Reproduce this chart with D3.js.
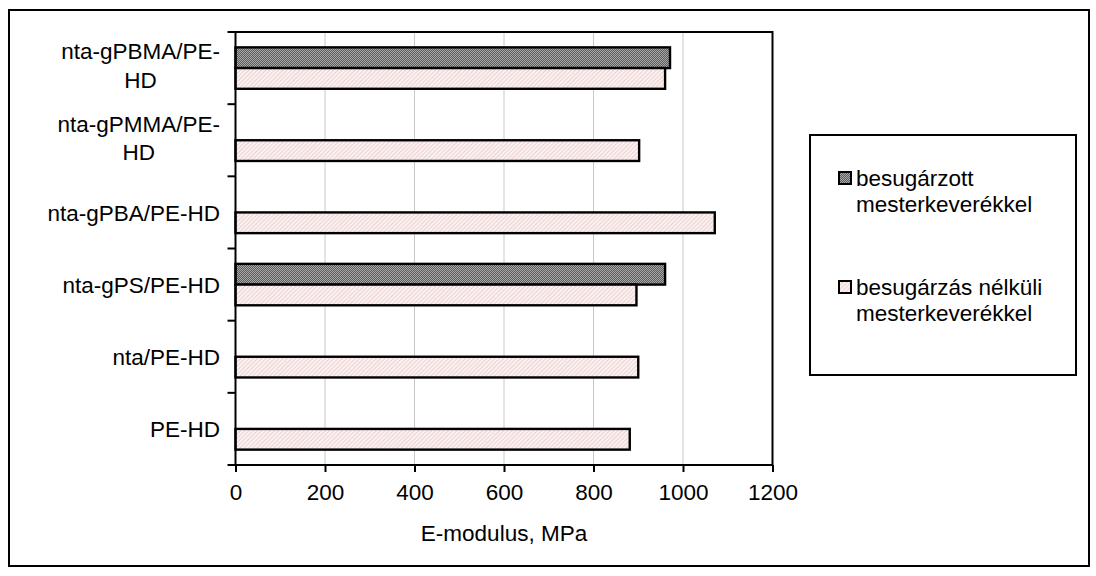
<!DOCTYPE html>
<html>
<head>
<meta charset="utf-8">
<script src="https://cdnjs.cloudflare.com/ajax/libs/d3/7.8.5/d3.min.js"></script>
<style>
  html, body { margin: 0; padding: 0; background: #fff; }
  text { font-family: "Liberation Sans", Arial, sans-serif; fill: #000; }
</style>
</head>
<body>
<svg id="chart" width="1096" height="576"></svg>
<script>
// ---- data ----
const categories = ["nta-gPBMA/PE-HD", "nta-gPMMA/PE-HD", "nta-gPBA/PE-HD", "nta-gPS/PE-HD", "nta/PE-HD", "PE-HD"];
const categoryLabelLines = [["nta-gPBMA/PE-", "HD"], ["nta-gPMMA/PE-", "HD"], ["nta-gPBA/PE-HD"], ["nta-gPS/PE-HD"], ["nta/PE-HD"], ["PE-HD"]];
const seriesNames = ["besugárzott mesterkeverékkel", "besugárzás nélküli mesterkeverékkel"];
const legendLines = [["besugárzott", "mesterkeverékkel"], ["besugárzás nélküli", "mesterkeverékkel"]];
const irradiated = [971, null, null, 960, null, null];
const nonIrradiated = [960, 902, 1071, 896, 900, 881];
const xTicks = [0, 200, 400, 600, 800, 1000, 1200];
const xTitle = "E-modulus, MPa";

// ---- layout ----
const FS = 22.5;
const svg = d3.select("#chart");
const plot = { left: 235.5, right: 772.5, top: 32, bottom: 465 };

const defs = svg.append("defs");
const pDark = defs.append("pattern").attr("id", "pDark").attr("width", 2).attr("height", 2).attr("patternUnits", "userSpaceOnUse");
pDark.append("rect").attr("width", 2).attr("height", 2).attr("fill", "#5e5e5e");
pDark.append("rect").attr("width", 1).attr("height", 1).attr("fill", "#a6a6a6");
pDark.append("rect").attr("x", 1).attr("y", 1).attr("width", 1).attr("height", 1).attr("fill", "#a6a6a6");

const pPink = defs.append("pattern").attr("id", "pPink").attr("width", 3).attr("height", 3).attr("patternUnits", "userSpaceOnUse").attr("patternTransform", "rotate(45)");
pPink.append("rect").attr("width", 3).attr("height", 3).attr("fill", "#fcf3f3");
pPink.append("rect").attr("width", 1.1).attr("height", 3).attr("fill", "#ecd2d2");

const fills = ["url(#pDark)", "url(#pPink)"];

svg.append("rect").attr("x", 0).attr("y", 0).attr("width", 1096).attr("height", 576).attr("fill", "#fff");
svg.append("rect").attr("x", 9).attr("y", 10).attr("width", 1080).attr("height", 556)
  .attr("fill", "none").attr("stroke", "#000").attr("stroke-width", 2);

const x = d3.scaleLinear().domain([0, 1200]).range([plot.left, plot.right]);
const y = d3.scaleBand().domain(categories).range([plot.top, plot.bottom]).paddingInner(0.426).paddingOuter(0.213);
const ySub = d3.scaleBand().domain(seriesNames).range([0, y.bandwidth()]);

// gridlines
svg.append("g").selectAll("line").data(xTicks.filter(t => t > 0 && t < 1200)).join("line")
  .attr("x1", d => x(d)).attr("x2", d => x(d))
  .attr("y1", plot.top).attr("y2", plot.bottom)
  .attr("stroke", "#c8c8c8").attr("stroke-width", 1);

// bars
const seriesData = [irradiated, nonIrradiated];
seriesData.forEach((vals, si) => {
  svg.append("g").selectAll("rect")
    .data(categories.map((c, i) => ({ c, v: vals[i] })).filter(d => d.v != null))
    .join("rect")
    .attr("x", x(0))
    .attr("y", d => y(d.c) + ySub(seriesNames[si]))
    .attr("width", d => x(d.v) - x(0))
    .attr("height", ySub.bandwidth())
    .attr("fill", fills[si])
    .attr("stroke", "#000").attr("stroke-width", 2.4);
});

// plot border
svg.append("rect").attr("x", plot.left).attr("y", plot.top)
  .attr("width", plot.right - plot.left).attr("height", plot.bottom - plot.top)
  .attr("fill", "none").attr("stroke", "#000").attr("stroke-width", 2);

// x axis
const xAxis = d3.axisBottom(x).tickValues(xTicks).tickSize(7).tickPadding(12).tickFormat(d3.format("d"));
const gx = svg.append("g").attr("transform", `translate(0,${plot.bottom})`).call(xAxis);
gx.select(".domain").remove();
gx.selectAll(".tick line").attr("stroke", "#000").attr("stroke-width", 2);
gx.selectAll(".tick text").attr("font-size", FS).attr("font-family", "Liberation Sans, Arial, sans-serif").attr("fill", "#000");

// y axis ticks at band boundaries
const step = y.step();
const boundaries = d3.range(categories.length + 1).map(i => plot.top + i * step);
svg.append("g").selectAll("line").data(boundaries).join("line")
  .attr("x1", plot.left - 8).attr("x2", plot.left)
  .attr("y1", d => d).attr("y2", d => d)
  .attr("stroke", "#000").attr("stroke-width", 2);

// y labels
const labelRight = 220;
const lineH = 28.5;
const gy = svg.append("g");
categories.forEach((c, i) => {
  const lines = categoryLabelLines[i];
  const cy = y(c) + y.bandwidth() / 2 + (lines.length > 1 ? -2 : 1);
  const g = gy.append("g");
  const t = g.selectAll("text").data(lines).join("text")
    .attr("font-size", FS)
    .attr("text-anchor", "middle")
    .attr("dominant-baseline", "central")
    .attr("y", (d, k) => cy + (k - (lines.length - 1) / 2) * lineH)
    .text(d => d);
  let maxW = 0;
  t.each(function () { maxW = Math.max(maxW, this.getComputedTextLength()); });
  t.attr("x", labelRight - maxW / 2);
});

// x title
svg.append("text").attr("x", (plot.left + plot.right) / 2).attr("y", 533)
  .attr("text-anchor", "middle").attr("dominant-baseline", "central")
  .attr("font-size", FS).text(xTitle);

// legend
const lg = { x: 810, y: 135, w: 266, h: 240 };
svg.append("rect").attr("x", lg.x).attr("y", lg.y).attr("width", lg.w).attr("height", lg.h)
  .attr("fill", "#fff").attr("stroke", "#000").attr("stroke-width", 2);
const legendRows = [186, 295];
seriesNames.forEach((s, i) => {
  const baseY = legendRows[i];
  svg.append("rect").attr("x", 839).attr("y", baseY - 14).attr("width", 12).attr("height", 12)
    .attr("fill", fills[i]).attr("stroke", "#000").attr("stroke-width", 2);
  svg.append("g").selectAll("text").data(legendLines[i]).join("text")
    .attr("x", 856).attr("y", (d, k) => baseY + k * 26)
    .attr("font-size", FS).text(d => d);
});
</script>
</body>
</html>
